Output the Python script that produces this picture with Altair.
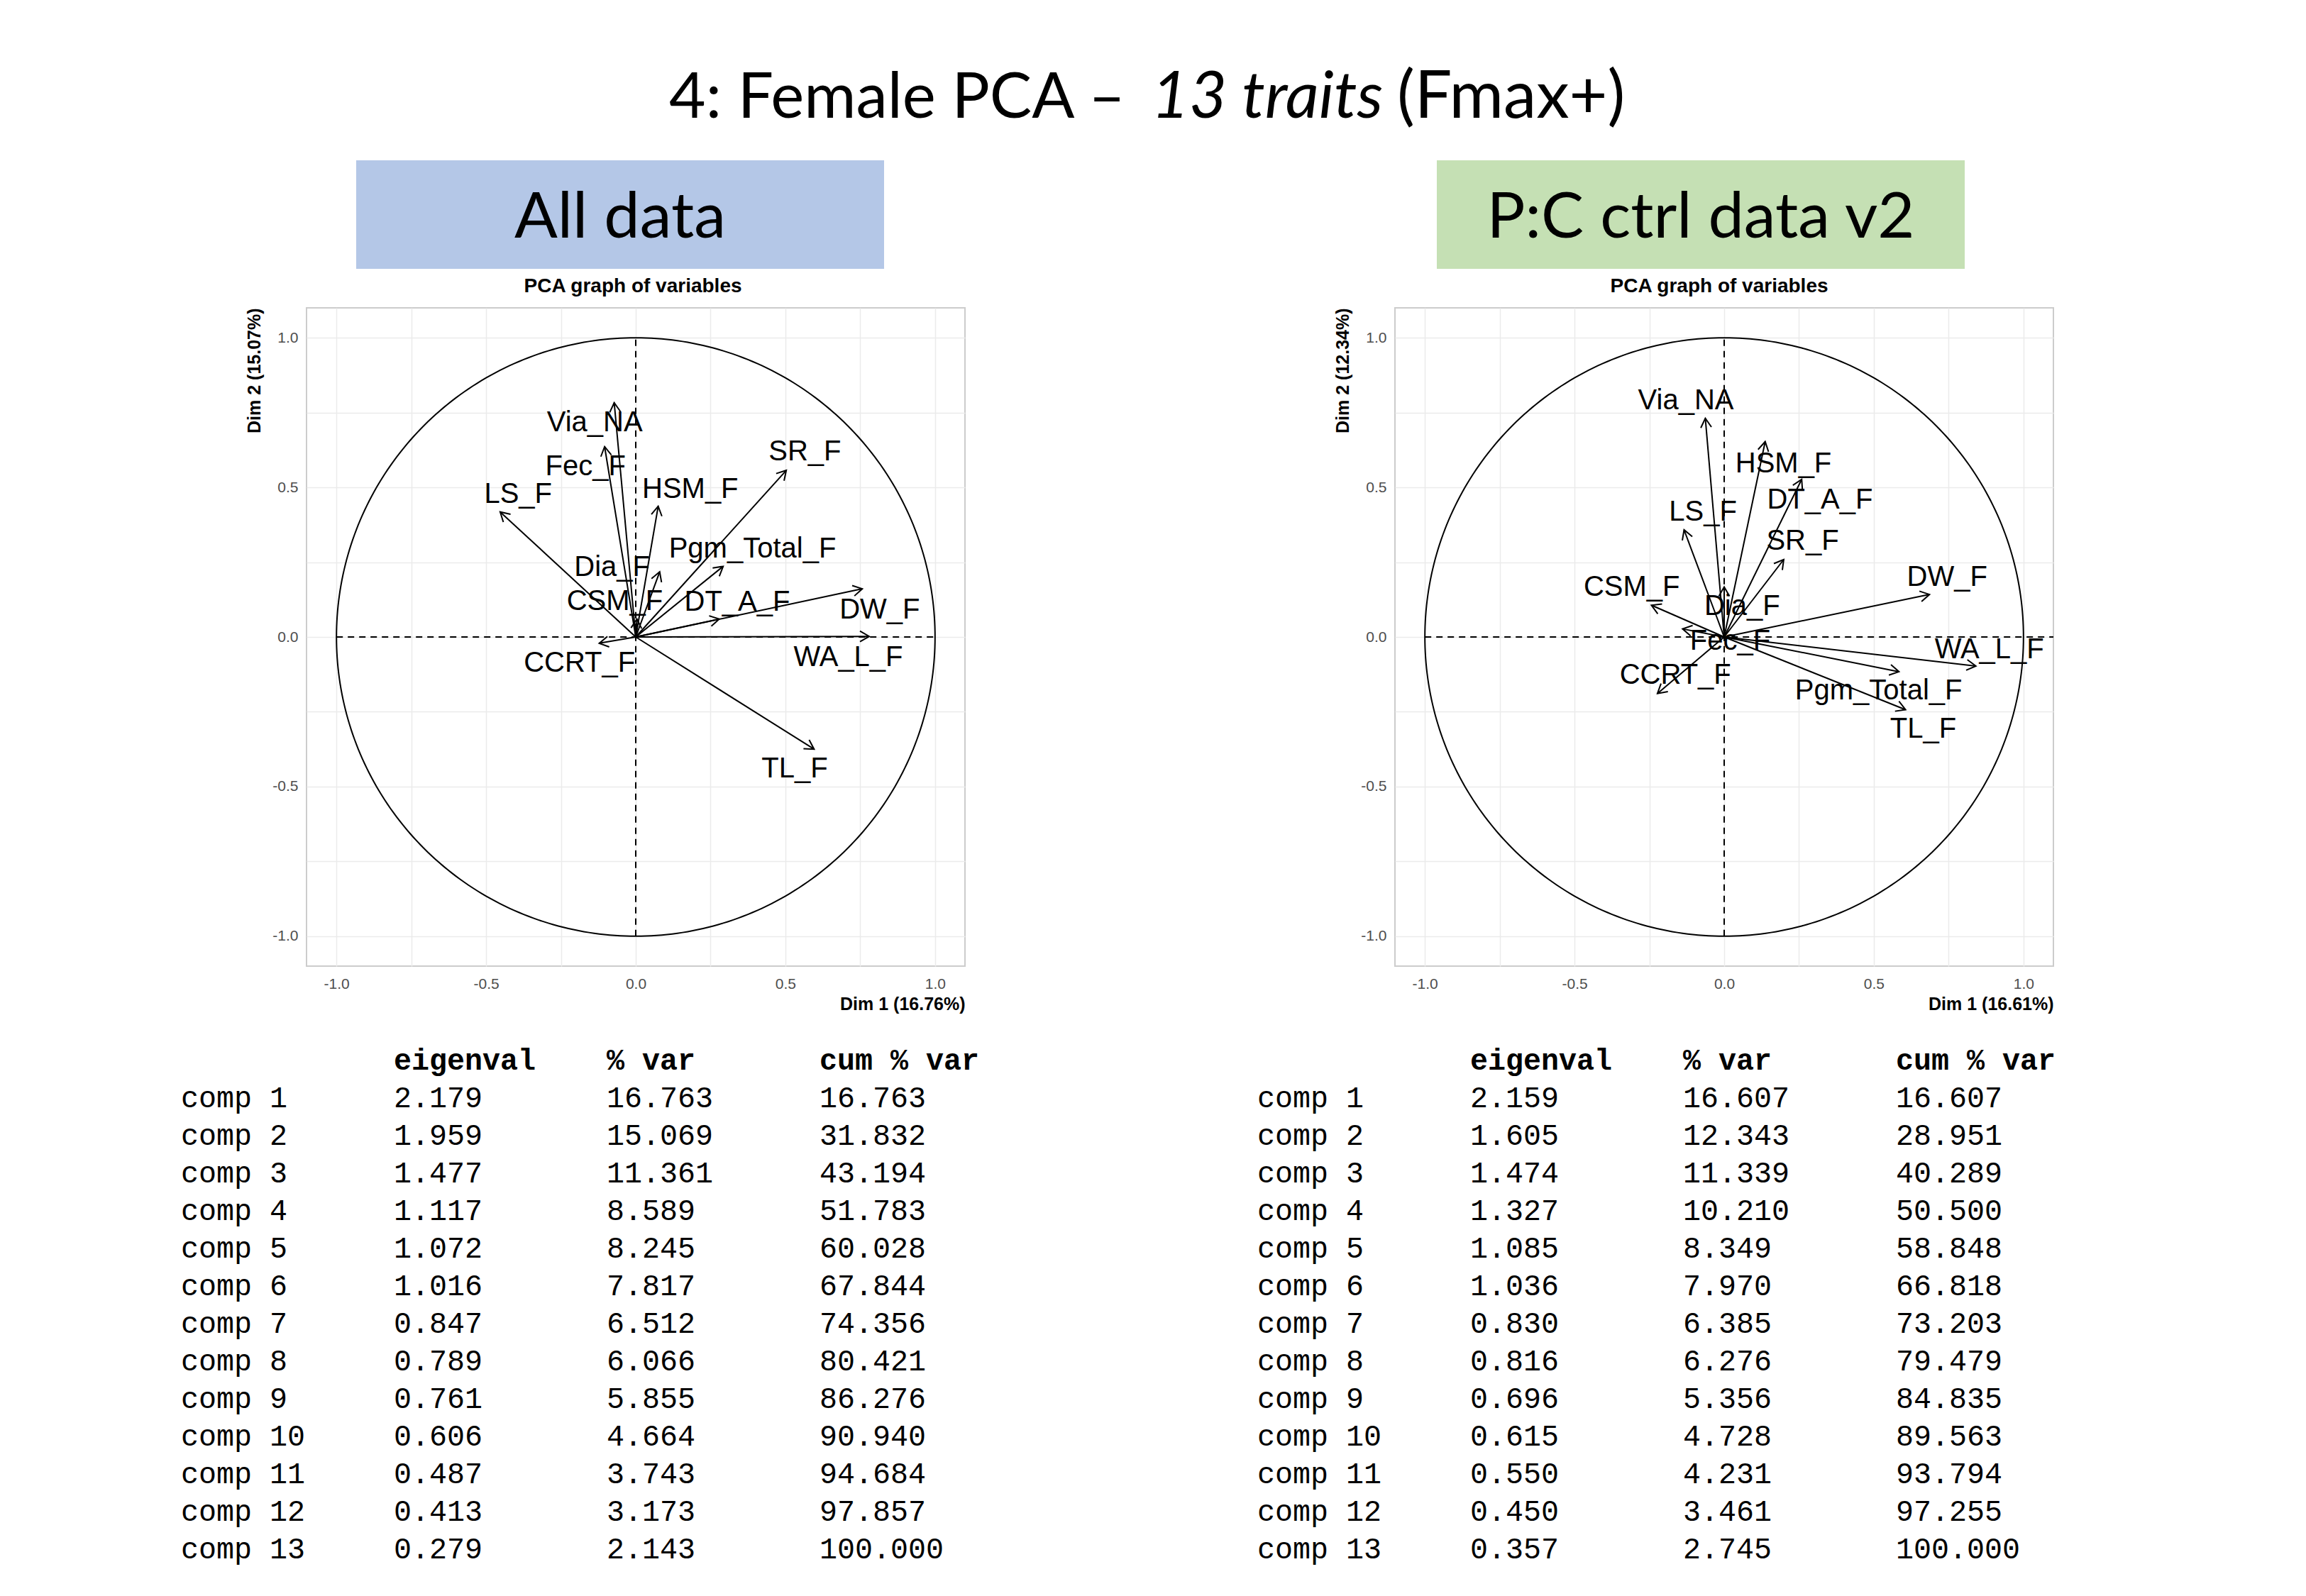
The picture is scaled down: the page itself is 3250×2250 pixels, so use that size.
import altair as alt
import pandas as pd

# ------------------------------------------------------------------ data
title_parts = ["4: Female PCA \u2013", "13 traits", "(Fmax+)"]
panel_names = ["All data", "P:C ctrl data v2"]
box_colors = ["#B4C7E7", "#C5E0B4"]
plot_title = "PCA graph of variables"

# All data : variable coordinates (Dim1, Dim2) and label positions
traits_all = ["Via_NA", "Fec_F", "LS_F", "HSM_F", "SR_F", "Pgm_Total_F", "Dia_F",
              "CSM_F", "DT_A_F", "DW_F", "WA_L_F", "CCRT_F", "TL_F"]
dim1_all = [-0.072, -0.104, -0.453, 0.075, 0.503, 0.292, 0.080, 0.004, 0.279, 0.757, 0.780, -0.122, 0.596]
dim2_all = [0.783, 0.636, 0.418, 0.437, 0.557, 0.236, 0.218, 0.060, 0.060, 0.161, 0.002, -0.021, -0.375]
labx_all = [-0.137, -0.168, -0.393, 0.182, 0.565, 0.390, -0.079, -0.070, 0.339, 0.815, 0.710, -0.188, 0.531]
laby_all = [0.715, 0.569, 0.477, 0.494, 0.618, 0.293, 0.232, 0.119, 0.115, 0.091, -0.068, -0.088, -0.442]

# P:C ctrl data v2
traits_ctrl = ["Via_NA", "HSM_F", "DT_A_F", "LS_F", "SR_F", "Dia_F", "CSM_F", "Fec_F",
               "DW_F", "WA_L_F", "Pgm_Total_F", "TL_F", "CCRT_F"]
dim1_ctrl = [-0.063, 0.137, 0.259, -0.134, 0.199, 0.000, -0.243, -0.139, 0.686, 0.841, 0.584, 0.606, -0.223]
dim2_ctrl = [0.731, 0.653, 0.527, 0.358, 0.259, 0.167, 0.106, 0.027, 0.142, -0.097, -0.116, -0.243, -0.189]
labx_ctrl = [-0.128, 0.198, 0.320, -0.071, 0.262, 0.060, -0.309, 0.020, 0.745, 0.886, 0.516, 0.665, -0.163]
laby_ctrl = [0.790, 0.579, 0.458, 0.417, 0.320, 0.101, 0.166, -0.015, 0.200, -0.042, -0.180, -0.308, -0.128]

dim_titles_all = ["Dim 1 (16.76%)", "Dim 2 (15.07%)"]
dim_titles_ctrl = ["Dim 1 (16.61%)", "Dim 2 (12.34%)"]

grid_vals = [-1.0, -0.75, -0.5, -0.25, 0.0, 0.25, 0.5, 0.75, 1.0]

# eigenvalue tables
table_header = ["eigenval", "% var", "cum % var"]
comps = ["comp %d" % i for i in range(1, 14)]
eig_all = [2.179, 1.959, 1.477, 1.117, 1.072, 1.016, 0.847, 0.789, 0.761, 0.606, 0.487, 0.413, 0.279]
pct_all = [16.763, 15.069, 11.361, 8.589, 8.245, 7.817, 6.512, 6.066, 5.855, 4.664, 3.743, 3.173, 2.143]
cum_all = [16.763, 31.832, 43.194, 51.783, 60.028, 67.844, 74.356, 80.421, 86.276, 90.940, 94.684, 97.857, 100.000]
eig_ctrl = [2.159, 1.605, 1.474, 1.327, 1.085, 1.036, 0.830, 0.816, 0.696, 0.615, 0.550, 0.450, 0.357]
pct_ctrl = [16.607, 12.343, 11.339, 10.210, 8.349, 7.970, 6.385, 6.276, 5.356, 4.728, 4.231, 3.461, 2.745]
cum_ctrl = [16.607, 28.951, 40.289, 50.500, 58.848, 66.818, 73.203, 79.479, 84.835, 89.563, 93.794, 97.255, 100.000]

# ------------------------------------------------------------------ layout (page pixels)
W = 3214                     # width of header / table rows
H1 = 424                     # header row height (page y 8 .. 432)
T3, H3 = 1427, 788           # table row top and height
PANEL = 928
SPACING = 518
LEFT_GAP = 337               # blank space left of the first PCA panel's axis
title_x = [1586, 1786, 1969]
title_size = [89, 92, 93]
title_y = 166
box_x1, box_x2, box_y1, box_y2 = [502, 2025], [1246, 2769], 226, 379
box_text_x, box_text_y = [874, 2397], 335
plot_title_x, plot_title_y = [892, 2423], 404
table_x0 = [255, 1772]
col_step = 300
row_base, row_step = 1506, 53.0

TITLE_FONT = "Lato"
SANS = "Liberation Sans"
MONO = "Liberation Mono"

PX = alt.Scale(domain=[8, 8 + W], nice=False, zero=False)


# ------------------------------------------------------------------ header row
title_df = pd.DataFrame({"t": title_parts, "x": title_x, "y": [title_y] * 3})
boxes_df = pd.DataFrame({"name": panel_names, "x1": box_x1, "x2": box_x2,
                         "y1": [box_y1] * 2, "y2": [box_y2] * 2, "fill": box_colors,
                         "tx": box_text_x, "ty": [box_text_y] * 2})
ptitle_df = pd.DataFrame({"t": [plot_title] * 2, "x": plot_title_x, "y": [plot_title_y] * 2})

PY1 = alt.Scale(domain=[8, 8 + H1], nice=False, zero=False, reverse=True)


def hx(f):
    return alt.X(f, type="quantitative", scale=PX, axis=None)


def hy(f):
    return alt.Y(f, type="quantitative", scale=PY1, axis=None)


base_t = alt.Chart(title_df)
t1 = base_t.transform_filter(alt.datum.t == title_parts[0]).mark_text(
    font=TITLE_FONT, fontSize=title_size[0], align="right", baseline="alphabetic", color="black"
).encode(x=hx("x"), y=hy("y"), text="t:N")
t2 = base_t.transform_filter(alt.datum.t == title_parts[1]).mark_text(
    font=TITLE_FONT, fontSize=title_size[1], fontStyle="italic", align="center",
    baseline="alphabetic", color="black"
).encode(x=hx("x"), y=hy("y"), text="t:N")
t3 = base_t.transform_filter(alt.datum.t == title_parts[2]).mark_text(
    font=TITLE_FONT, fontSize=title_size[2], align="left", baseline="alphabetic", color="black"
).encode(x=hx("x"), y=hy("y"), text="t:N")

boxes = alt.Chart(boxes_df).mark_rect().encode(
    x=hx("x1"), x2="x2", y=hy("y1"), y2="y2", color=alt.Color("fill:N", scale=None)
)
box_text = alt.Chart(boxes_df).mark_text(
    font=TITLE_FONT, fontSize=90, align="center", baseline="alphabetic", color="black"
).encode(x=hx("tx"), y=hy("ty"), text="name:N")
ptitles = alt.Chart(ptitle_df).mark_text(
    font=SANS, fontSize=28, fontWeight="bold", align="center", baseline="middle", color="black"
).encode(x=hx("x"), y=hy("y"), text="t:N")

header = alt.layer(boxes, box_text, t1, t2, t3, ptitles).properties(width=W, height=H1)


# ------------------------------------------------------------------ PCA panels
label_expr = ("abs(datum.value * 2 - round(datum.value * 2)) < 0.001 ? "
              "(datum.value < 0 ? '-' + format(-datum.value, '.1f') : format(datum.value, '.1f')) : ''")


def pca_chart(names, xs, ys, lx, ly, titles, hline_end):
    arrows = pd.DataFrame({"trait": names, "x": xs, "y": ys})
    labels = pd.DataFrame({"trait": names, "lx": lx, "ly": ly})
    refs = pd.DataFrame({"a1": [-1.0, 0.0], "a2": [hline_end, 0.0],
                         "b1": [0.0, -1.0], "b2": [0.0, 1.0]})
    sc = alt.Scale(domain=[-1.1, 1.1], nice=False, zero=False)
    common = dict(values=grid_vals, labelExpr=label_expr, grid=True, gridColor="#ebebeb",
                  gridWidth=1.5, domain=False, ticks=False, labelFont=SANS, labelFontSize=21,
                  labelColor="#4d4d4d", labelFlush=False, labelOverlap=False,
                  titleFont=SANS, titleFontSize=25, titleFontWeight="bold", titleColor="black",
                  titleAnchor="end")
    xaxis = alt.Axis(title=titles[0], labelPadding=14, titlePadding=6, **common)
    yaxis = alt.Axis(title=titles[1], labelPadding=12, titlePadding=12, **common)

    def X(f):
        return alt.X(f, type="quantitative", scale=sc, axis=xaxis)

    def Y(f):
        return alt.Y(f, type="quantitative", scale=sc, axis=yaxis)

    circle = alt.Chart(alt.sequence(0, 361, 1, as_="deg")).transform_calculate(
        cx="cos(datum.deg * PI / 180)", cy="sin(datum.deg * PI / 180)"
    ).mark_line(color="black", strokeWidth=2).encode(x=X("cx"), y=Y("cy"), order="deg:Q")

    dashed = alt.Chart(refs).mark_rule(color="black", strokeWidth=2, strokeDash=[9, 7]).encode(
        x=X("a1"), x2="a2", y=Y("b1"), y2="b2"
    )

    shafts = alt.Chart(arrows).transform_calculate(x0="0", y0="0").mark_rule(
        color="black", strokeWidth=2
    ).encode(x=X("x0"), y=Y("y0"), x2="x", y2="y")

    heads = alt.Chart(arrows).transform_calculate(
        ang="(atan2(datum.x, datum.y) * 180 / PI + 360) % 360"
    ).mark_point(
        shape="M -0.577 1 L 0 0 L 0.577 1", filled=False, color="black",
        strokeWidth=2, size=676, opacity=1
    ).encode(x=X("x"), y=Y("y"), angle=alt.Angle("ang:Q", scale=None))

    text = alt.Chart(labels).mark_text(
        font=SANS, fontSize=40, color="black", align="center", baseline="middle"
    ).encode(x=X("lx"), y=Y("ly"), text="trait:N")

    return alt.layer(dashed, circle, shafts, heads, text).properties(
        width=PANEL, height=PANEL,
        view=alt.ViewBackground(stroke="#cccccc", strokeWidth=2)
    )


pca_left = pca_chart(traits_all, dim1_all, dim2_all, labx_all, laby_all, dim_titles_all, 1.0)
pca_right = pca_chart(traits_ctrl, dim1_ctrl, dim2_ctrl, labx_ctrl, laby_ctrl, dim_titles_ctrl, 1.1)

# empty spacer that reserves the blank margin to the left of the first panel
spacer = alt.Chart(pd.DataFrame({"s": [""]})).mark_text(
    align="left", baseline="top", fontSize=1
).encode(x=alt.value(0), y=alt.value(0), text="s:N").properties(width=LEFT_GAP, height=20)

pcas = alt.hconcat(spacer, alt.hconcat(pca_left, pca_right, spacing=SPACING), spacing=0)


# ------------------------------------------------------------------ tables
rows = []
for ti, (eig, pct, cum) in enumerate([(eig_all, pct_all, cum_all), (eig_ctrl, pct_ctrl, cum_ctrl)]):
    x0 = table_x0[ti]
    for ci, h in enumerate(table_header):
        rows.append({"t": h, "x": x0 + (ci + 1) * col_step, "y": row_base, "bold": 1})
    for ri in range(13):
        y = row_base + (ri + 1) * row_step
        cells = [comps[ri], "%.3f" % eig[ri], "%.3f" % pct[ri], "%.3f" % cum[ri]]
        for ci, c in enumerate(cells):
            rows.append({"t": c, "x": x0 + ci * col_step, "y": y, "bold": 0})
table_df = pd.DataFrame(rows)

PY3 = alt.Scale(domain=[T3, T3 + H3], nice=False, zero=False, reverse=True)
tbase = alt.Chart(table_df)
t_head = tbase.transform_filter(alt.datum.bold == 1).mark_text(
    font=MONO, fontSize=41.67, fontWeight="bold", align="left", baseline="alphabetic", color="black"
).encode(x=alt.X("x:Q", scale=PX, axis=None), y=alt.Y("y:Q", scale=PY3, axis=None), text="t:N")
t_body = tbase.transform_filter(alt.datum.bold == 0).mark_text(
    font=MONO, fontSize=41.67, align="left", baseline="alphabetic", color="black"
).encode(x=alt.X("x:Q", scale=PX, axis=None), y=alt.Y("y:Q", scale=PY3, axis=None), text="t:N")
tables = alt.layer(t_head, t_body).properties(width=W, height=H3)


# ------------------------------------------------------------------ page
chart = alt.vconcat(header, pcas, tables, spacing=0).properties(
    padding=0, background="white"
).configure_view(strokeWidth=0)

chart.save("out.html", embed_options={"renderer": "svg", "actions": False})
